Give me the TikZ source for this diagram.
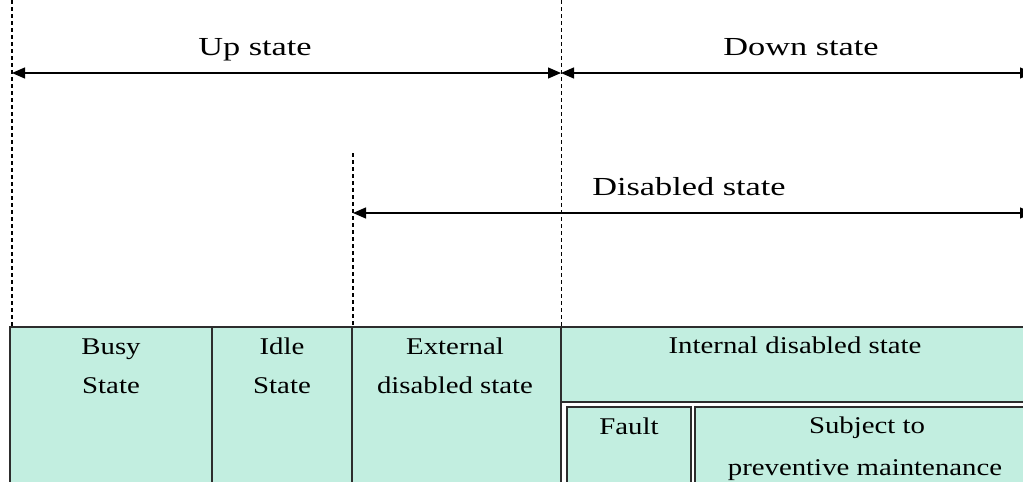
\documentclass[tikz,border=0pt]{standalone}
\usepackage{fontspec}
\setmainfont{Liberation Serif}
\newfontfamily\toplbl[FakeStretch=1.32]{Liberation Serif}
\newfontfamily\celllbl[FakeStretch=1.2]{Liberation Serif}
\usetikzlibrary{arrows.meta}
\definecolor{cellfill}{RGB}{194,238,224}
\definecolor{edge}{RGB}{45,45,45}
\begin{document}
\begin{tikzpicture}[x=1pt,y=-1pt,
  span/.style={{Triangle[length=13pt,width=11pt]}-{Triangle[length=13pt,width=11pt]}, line width=1.2pt},
  marker/.style={line width=1.5pt, dash pattern=on 4pt off 3pt},
  thinmarker/.style={line width=1pt, dash pattern=on 4pt off 3pt},
  cell/.style={draw=edge, line width=1.5pt, fill=cellfill},
  toptext/.style={font=\toplbl\fontsize{26}{30}\selectfont, anchor=base, inner sep=0pt},
  celltext/.style={font=\celllbl\fontsize{24}{28}\selectfont, anchor=base, inner sep=0pt}]
\useasboundingbox (0,0) rectangle (1023,482);
\clip (0,0) rectangle (1023,482);

% cells of the state table (they run past the lower edge)
\filldraw[cell] (10,327) rectangle (212,495);
\filldraw[cell] (212,327) rectangle (352,495);
\filldraw[cell] (352,327) rectangle (561,495);
\filldraw[cell] (561,327) rectangle (1035,402);
\draw[draw=edge, line width=1.5pt] (561,402) -- (561,495);
\filldraw[cell] (567,407) rectangle (691,495);
\filldraw[cell] (695,407) rectangle (1035,495);

% boundary markers
\coordinate (upTop) at (12,0);
\coordinate (upBot) at (12,327);
\coordinate (downTop) at (561,0);
\coordinate (downBot) at (561,327);
\coordinate (disTop) at (353,153);
\coordinate (disBot) at (353,327);
\draw[marker] (upTop) -- (upBot);
\draw[thinmarker] (downTop) -- (downBot);
\draw[marker] (disTop) -- (disBot);

% spans
\coordinate (upL) at (12,73);
\coordinate (upR) at (561,73);
\coordinate (downR) at (1033,73);
\coordinate (disL) at (353,213);
\coordinate (disR) at (1033,213);
\draw[span] (upR) -- (upL);
\draw[span] (upR) -- (downR);
\draw[span] (disL) -- (disR);

% span labels
\node[toptext] (upLabel) at (255,55) {Up state};
\node[toptext] (downLabel) at (801,55) {Down state};
\node[toptext] (disLabel) at (689,195) {Disabled state};

% cell labels
\node[celltext] (busy1) at (111,354) {Busy};
\node[celltext] (busy2) at (111,393) {State};
\node[celltext] (idle1) at (282,354) {Idle};
\node[celltext] (idle2) at (282,393) {State};
\node[celltext] (ext1) at (455,354) {External};
\node[celltext] (ext2) at (455,393) {disabled state};
\node[celltext] (internal) at (795,353) {Internal disabled state};
\node[celltext] (fault) at (629,434) {Fault};
\node[celltext] (pm1) at (867,433) {Subject to};
\node[celltext] (pm2) at (865,475) {preventive maintenance};
\end{tikzpicture}
\end{document}
